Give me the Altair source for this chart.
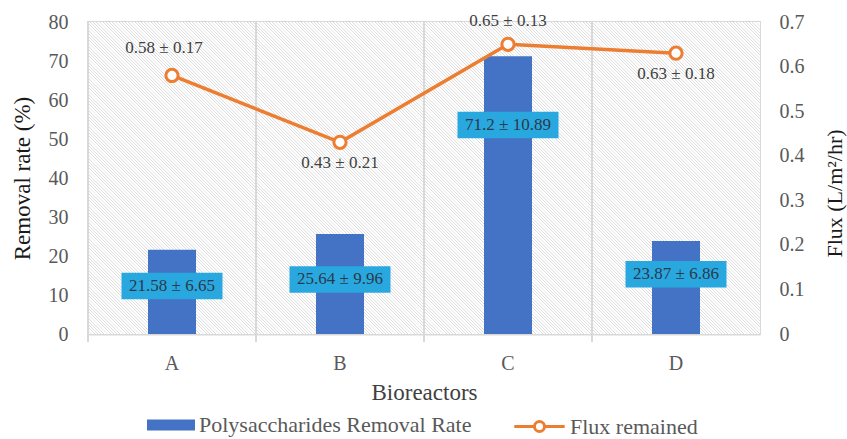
import altair as alt
import pandas as pd

# ---- data ----
categories = ["A", "B", "C", "D"]
removal_rate = [21.58, 25.64, 71.2, 23.87]
removal_sd = [6.65, 9.96, 10.89, 6.86]
flux_remained = [0.58, 0.43, 0.65, 0.63]
flux_sd = [0.17, 0.21, 0.13, 0.18]
box_anchor = [12.3, 14.0, 53.6, 15.3]          # where each value box sits (removal %)
flux_label_side = ["above-left", "below", "above", "below"]

SERIF = "Liberation Serif"
BLUE = "#4472C4"
CYAN = "#29A8E0"
ORANGE = "#ED7D31"
GRID = "#d9d9d9"
W, H = 672, 312

df = pd.DataFrame({
    "cat": categories,
    "removal": removal_rate,
    "removal_label": [f"{v} \u00b1 {s}" for v, s in zip(removal_rate, removal_sd)],
    "anchor": box_anchor,
    "flux": flux_remained,
    "flux_label": [f"{v} \u00b1 {s}" for v, s in zip(flux_remained, flux_sd)],
    "side": flux_label_side,
})
df["series"] = "Polysaccharides Removal Rate"
df["series2"] = "Flux remained"

base = alt.Chart(df)
xscale = alt.Scale(paddingInner=0, paddingOuter=0, domain=categories)
x_plain = alt.X("cat:N", scale=xscale)
yl_scale = alt.Scale(domain=[0, 80])
yr_scale = alt.Scale(domain=[0, 0.7])

bar_sym = "M-2,-0.45H2V0.45H-2Z"
line_sym = ("M-2.1,0H-0.42M0.42,0H2.1M0.42,0A0.42,0.42 0 1,1 -0.42,0"
            "A0.42,0.42 0 1,1 0.42,0")

# hatched plot background (fine diagonal lines) as a striped linear gradient
period = 3.2
span = W + H
n = int(span / period)
stops = []
for i in range(n):
    s0 = i * period
    stops += [
        alt.GradientStop(offset=round(s0 / span, 6), color="#dcdcdc"),
        alt.GradientStop(offset=round((s0 + 0.6) / span, 6), color="#dcdcdc"),
        alt.GradientStop(offset=round((s0 + 0.9) / span, 6), color="#ffffff"),
        alt.GradientStop(offset=round((s0 + period - 0.3) / span, 6), color="#ffffff"),
    ]
s_end = (W + H) / (W + H * H / W)
hatch = alt.LinearGradient(gradient="linear", stops=stops, x1=0, y1=1,
                           x2=round(s_end, 5), y2=round(1 - s_end * H / W, 5))

background = alt.Chart(pd.DataFrame({"k": [0]})).mark_rect(fill=hatch).encode(
    x=alt.value(0), x2=alt.value(W), y=alt.value(0), y2=alt.value(H)
)

bars = base.mark_bar(width=48, color=BLUE).encode(
    x=alt.X("cat:N", scale=xscale,
            axis=alt.Axis(title="Bioreactors", labelAngle=0, grid=False, ticks=False,
                          domain=False, labelFont=SERIF, labelFontSize=20,
                          labelColor="#595959", labelPadding=19, titleFont=SERIF,
                          titleFontSize=23, titleFontWeight="normal",
                          titleColor="#404040", titlePadding=8)),
    y=alt.Y("removal:Q", scale=yl_scale,
            axis=alt.Axis(title="Removal rate (%)", values=list(range(0, 81, 10)),
                          grid=True, gridColor=GRID, gridWidth=2, ticks=False,
                          domain=False, labelFont=SERIF, labelFontSize=20,
                          labelColor="#595959", labelPadding=20, titleFont=SERIF,
                          titleFontSize=23, titleFontWeight="normal",
                          titleColor="#1a1a1a", titleAngle=270, titleX=-66,
                          titleBaseline="middle")),
    color=alt.Color("series:N", scale=alt.Scale(range=[BLUE]),
                    legend=alt.Legend(orient="none", legendX=71, legendY=391,
                                      title=None, symbolType=bar_sym, symbolSize=576,
                                      symbolStrokeWidth=0, labelFont=SERIF,
                                      labelFontSize=22, labelColor="#595959",
                                      labelOffset=16, labelLimit=600)),
)

# vertical category-boundary grid lines (extend a little below as tick marks)
vgrid = base.mark_rule(color=GRID, strokeWidth=2).encode(
    x=alt.X("cat:N", scale=xscale, bandPosition=0),
    y=alt.value(0),
    y2=alt.value(H + 8),
)

boxes = base.transform_calculate(
    lo="datum.anchor - 3.4", hi="datum.anchor + 3.4"
).mark_bar(width=101, color=CYAN).encode(
    x=x_plain,
    y=alt.Y("lo:Q", scale=yl_scale, axis=None),
    y2="hi:Q",
)

box_text = base.mark_text(font=SERIF, fontSize=17, color="#2b3a4a",
                          baseline="middle").encode(
    x=x_plain,
    y=alt.Y("anchor:Q", scale=yl_scale, axis=None),
    text="removal_label:N",
)

line = base.mark_line(strokeWidth=3.5).encode(
    x=x_plain,
    y=alt.Y("flux:Q", scale=yr_scale,
            axis=alt.Axis(orient="right", title="Flux (L/m\u00b2/hr)", format="~g",
                          values=[0, 0.1, 0.2, 0.3, 0.4, 0.5, 0.6, 0.7], grid=False,
                          ticks=False, domain=False, labelFont=SERIF, labelFontSize=20,
                          labelColor="#595959", labelPadding=19, titleFont=SERIF,
                          titleFontSize=22, titleFontWeight="normal",
                          titleColor="#1a1a1a", titleAngle=270, titleX=74, titleY=171,
                          titleBaseline="middle")),
    stroke=alt.Stroke("series2:N", scale=alt.Scale(range=[ORANGE]),
                      legend=alt.Legend(orient="none", legendX=438, legendY=391,
                                        title=None, symbolType=line_sym,
                                        symbolSize=576, symbolFillColor="white",
                                        symbolStrokeWidth=3, labelFont=SERIF,
                                        labelFontSize=22, labelColor="#595959",
                                        labelOffset=17, labelLimit=600)),
)

points = base.mark_point(filled=True, fill="white", stroke=ORANGE, strokeWidth=3,
                         size=150, opacity=1).encode(
    x=x_plain,
    y=alt.Y("flux:Q", scale=yr_scale, axis=None),
)


def flux_labels(side, dx, dy):
    return base.transform_filter(alt.datum.side == side).mark_text(
        font=SERIF, fontSize=17, color="#404040", baseline="middle", dx=dx, dy=dy
    ).encode(
        x=x_plain,
        y=alt.Y("flux:Q", scale=yr_scale, axis=None),
        text="flux_label:N",
    )


lab_al = flux_labels("above-left", -8, -27)
lab_a = flux_labels("above", 0, -23)
lab_b = flux_labels("below", 0, 21)

chart = alt.layer(
    background, bars, vgrid, boxes, box_text, line, points, lab_al, lab_a, lab_b
).resolve_scale(y="independent").properties(
    width=W, height=H,
    autosize=alt.AutoSizeParams(type="none"),
    padding={"left": 88, "top": 22, "right": 87, "bottom": 105},
).configure_view(
    stroke=GRID, strokeWidth=2
)

chart.save("out.html", embed_options={"renderer": "svg", "actions": False})
